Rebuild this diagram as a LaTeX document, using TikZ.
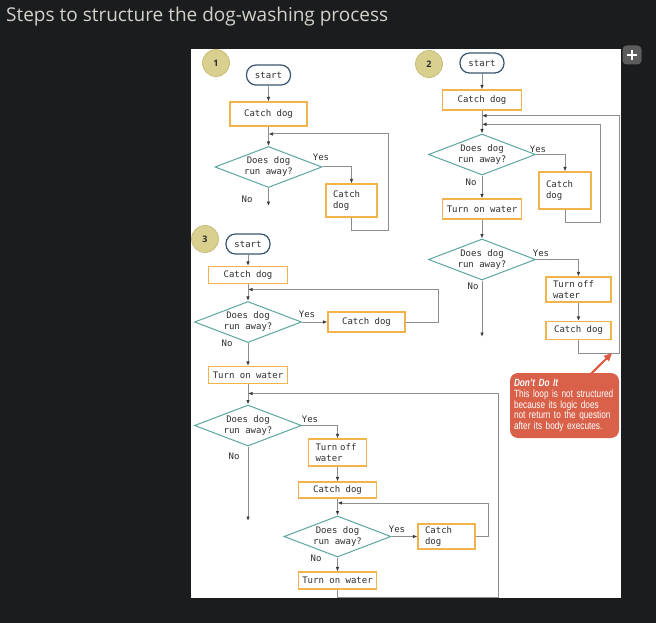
\documentclass[tikz,border=0pt]{standalone}
\usepackage{fontspec}
\setmainfont{Open Sans}
\newfontfamily\monof[Ligatures=NoCommon]{DejaVu Sans Mono}
\newfontfamily\callf[FakeStretch=0.785]{Liberation Sans}
\usetikzlibrary{shapes.geometric,arrows.meta}
\definecolor{bg}{HTML}{1B1C1E}
\definecolor{ttl}{HTML}{D2D2CA}
\definecolor{orng}{HTML}{F2B24C}
\definecolor{teal2}{HTML}{5CA6A1}
\definecolor{lin}{HTML}{8E8E8E}
\definecolor{arrc}{HTML}{3A3A3A}
\definecolor{txt}{HTML}{2E2E2E}
\definecolor{navy2}{HTML}{3A5670}
\definecolor{khaki}{HTML}{D9CF8F}
\definecolor{khakiE}{HTML}{C8BD7C}
\definecolor{callc}{HTML}{D9614A}
\definecolor{redarr}{HTML}{E0583E}
\definecolor{plusc}{HTML}{5C5C5C}
\begin{document}
\begin{tikzpicture}[x=1pt,y=-1pt,
  ln/.style={draw=lin, line width=1pt},
  arr/.style={-{Latex[length=4.5pt,width=3.6pt,color=arrc]}},
  mono/.style={font=\monof\fontsize{9}{11}\selectfont, text=txt},
  proc/.style={mono, draw=orng, fill=white, line width=1.1pt, inner sep=0pt, align=center},
  proctwo/.style={mono, draw=orng, fill=white, line width=1.1pt, inner ysep=0pt, inner xsep=7pt, align=left},
  decbox/.style={mono, shape=diamond, draw=teal2, fill=white, line width=1pt, aspect=2.6, inner sep=0pt, minimum width=107pt, minimum height=41pt, align=center},
  term/.style={mono, draw=navy2, fill=white, line width=1.2pt, rounded corners=9.5pt, minimum width=44pt, minimum height=20pt, inner sep=0pt},
  numc/.style={shape=circle, fill=khaki, draw=khakiE, line width=0.8pt, minimum size=27pt, inner sep=0pt, font=\fontsize{9}{9}\selectfont\bfseries, text=txt},
  lab/.style={mono},
  callbox/.style={fill=callc, rounded corners=8pt, minimum width=109pt, minimum height=65pt, text width=101pt, inner xsep=4pt, inner ysep=0pt, align=left, text=white, font=\callf\fontsize{10.5}{10.6}\selectfont},
  redline/.style={draw=redarr, line width=2pt, -{Triangle[length=8pt,width=7pt]}},
]
\useasboundingbox (0,0) rectangle (656,623);
\fill[bg] (0,0) rectangle (656,623);
\node[anchor=base west, text=ttl, font=\fontsize{19}{19}\selectfont, inner sep=0pt] (title) at (6,22) {Steps to structure the dog-washing process};
\fill[white] (191,49) rectangle (621,598);
\node[fill=plusc, rounded corners=4pt, minimum size=19pt, inner sep=0pt] (plus) at (632,55) {};
\draw[white, line width=2.6pt] ([xshift=-5pt]plus.center) -- ([xshift=5pt]plus.center);
\draw[white, line width=2.6pt] ([yshift=-5pt]plus.center) -- ([yshift=5pt]plus.center);

% ---------- section 1
\node[numc] (n1) at (216,63) {1};
\node[term] (s1) at (268.5,75) {start};
\node[proc, minimum width=77pt, minimum height=24pt] (c1) at (268.5,114) {Catch dog};
\node[decbox] (d1) at (268.5,167) {Does dog\\run away?};
\node[proctwo, text width=37pt, minimum height=33pt] (c1b) at (351.5,200.5) {Catch\\dog};
\coordinate (l1a) at (388,230);
\coordinate (l1b) at (388,134);
\coordinate (j1) at (268.5,134);
\coordinate (e1) at (268.5,206);
\draw[ln,arr] (s1) -- (c1);
\draw[ln,arr] (c1) -- (d1);
\draw[ln,arr] (d1.east) -| (c1b.north);
\draw[ln,arr] (c1b.south) |- (l1a) -- (l1b) -- (j1);
\draw[ln,arr] (d1.south) -- (e1);
\node[lab] (y1) at (321,157) {Yes};
\node[lab] (no1) at (247,199) {No};

% ---------- section 2
\node[numc] (n2) at (429,64) {2};
\node[term] (s2) at (482,63) {start};
\node[proc, minimum width=79pt, minimum height=20pt] (c2) at (482,100) {Catch dog};
\node[decbox] (d2) at (482,154.5) {Does dog\\run away?};
\node[proctwo, text width=38pt, minimum height=37pt] (c2b) at (565,190.5) {Catch\\dog};
\node[proc, minimum width=79pt, minimum height=20pt] (t2) at (482,209) {Turn on water};
\node[decbox] (d2b) at (482,259.5) {Does dog\\run away?};
\node[proctwo, text width=51pt, minimum height=25pt] (o2) at (578.5,289.5) {Turn off\\water};
\node[proc, minimum width=65pt, minimum height=18pt] (c2c) at (578.5,330.5) {Catch dog};
\coordinate (p2a) at (600.5,222);
\coordinate (p2b) at (600.5,124.3);
\coordinate (j2b) at (482,124.3);
\coordinate (p2c) at (619.5,353);
\coordinate (p2d) at (619.5,115.7);
\coordinate (j2a) at (482,115.7);
\coordinate (e2) at (482,337);
\draw[ln,arr] (s2) -- (c2);
\draw[ln,arr] (c2) -- (d2);
\draw[ln,arr] (d2.east) -| (c2b.north);
\draw[ln,arr] (c2b.south) |- (p2a) -- (p2b) -- (j2b);
\draw[ln,arr] (d2.south) -- (t2);
\draw[ln,arr] (t2) -- (d2b);
\draw[ln,arr] (d2b.east) -| (o2.north);
\draw[ln,arr] (o2) -- (c2c);
\draw[ln,arr] (c2c.south) |- (p2c) -- (p2d) -- (j2a);
\draw[ln,arr] (d2b.south) -- (e2);
\node[lab] (y2) at (538,149) {Yes};
\node[lab] (no2) at (471,182) {No};
\node[lab] (y2b) at (541,253) {Yes};
\node[lab] (no2b) at (473,286) {No};

% callout
\node[callbox] (cb) at (564.5,405.5) {\textbf{\textit{Don’t Do It}}\\This loop is not structured\\because its logic does\\not return to the question\\after its body executes.};
\coordinate (ct) at (612,353);
\draw[redline] ([xshift=25.5pt,yshift=-2pt]cb.north) -- (ct);

% ---------- section 3
\node[numc] (n3) at (205,239) {3};
\node[term] (s3) at (248,244) {start};
\node[proc, minimum width=79pt, minimum height=17pt] (c3) at (248,275) {Catch dog};
\node[decbox] (d3) at (248,322) {Does dog\\run away?};
\node[proc, minimum width=77pt, minimum height=20pt] (c3b) at (366.5,322) {Catch dog};
\node[proc, minimum width=79pt, minimum height=17pt] (t3) at (248,375) {Turn on water};
\node[decbox] (d3b) at (248,425.5) {Does dog\\run away?};
\node[proctwo, text width=44pt, minimum height=27pt] (o3) at (337.5,452.5) {Turn off\\water};
\node[proc, minimum width=78pt, minimum height=16pt] (c3c) at (337.5,490) {Catch dog};
\node[decbox] (d3c) at (337.5,536.5) {Does dog\\run away?};
\node[proctwo, text width=43pt, minimum height=25pt] (c3d) at (446.5,536.5) {Catch\\dog};
\node[proc, minimum width=78pt, minimum height=17pt] (t3b) at (337.5,580.5) {Turn on water};
\coordinate (q3a) at (438.5,322);
\coordinate (q3b) at (438.5,289.5);
\coordinate (k3a) at (248,289.5);
\coordinate (q3c) at (488.5,536.5);
\coordinate (q3d) at (488.5,503);
\coordinate (k3c) at (337.5,503);
\coordinate (q3e) at (337.5,597);
\coordinate (q3f) at (498.5,597);
\coordinate (q3g) at (498.5,393.5);
\coordinate (k3b) at (248,393.5);
\coordinate (e3) at (248,521);
\draw[ln,arr] (s3) -- (c3);
\draw[ln,arr] (c3) -- (d3);
\draw[ln,arr] (d3.east) -- (c3b.west);
\draw[ln,arr] (c3b.east) -- (q3a) -- (q3b) -- (k3a);
\draw[ln,arr] (d3.south) -- (t3);
\draw[ln,arr] (t3) -- (d3b);
\draw[ln,arr] (d3b.east) -| (o3.north);
\draw[ln,arr] (o3) -- (c3c);
\draw[ln,arr] (c3c) -- (d3c);
\draw[ln,arr] (d3c.east) -- (c3d.west);
\draw[ln,arr] (c3d.east) -- (q3c) -- (q3d) -- (k3c);
\draw[ln,arr] (d3c.south) -- (t3b);
\draw[ln,arr] (t3b.south) -- (q3e) -- (q3f) -- (q3g) -- (k3b);
\draw[ln,arr] (d3b.south) -- (e3);
\node[lab] (y3) at (307,314) {Yes};
\node[lab] (no3) at (227,343) {No};
\node[lab] (y3b) at (310,419) {Yes};
\node[lab] (no3b) at (234,456) {No};
\node[lab] (y3c) at (397,529) {Yes};
\node[lab] (no3c) at (316,558) {No};
\end{tikzpicture}
\end{document}
